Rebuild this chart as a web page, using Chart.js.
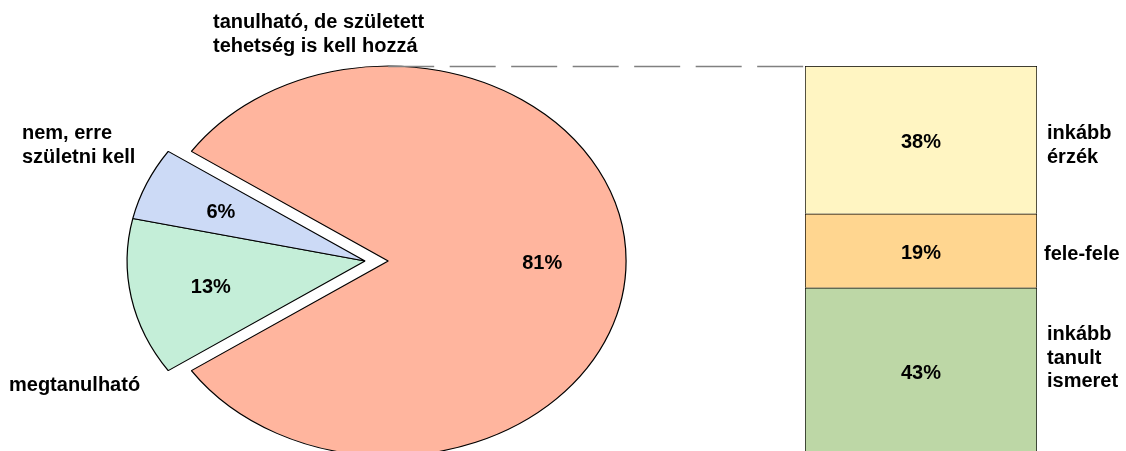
<!DOCTYPE html>
<html lang="hu">
<head>
  <meta charset="UTF-8">
  <title>Tanulható-e?</title>
  <script src="https://cdn.jsdelivr.net/npm/chart.js"></script>
  <style>
    body {
      margin: 0;
      width: 1126px;
      height: 451px;
      overflow: hidden;
      background: #fff;
      position: relative;
      font-family: 'Liberation Sans', Arial, sans-serif;
    }
    #pieChart { position: absolute; left: 0; top: 0; }
    #barChart { position: absolute; left: 790px; top: 0; }
    .lbl {
      position: absolute;
      font-weight: bold;
      font-size: 20px;
      line-height: 23.5px;
      color: #000;
      white-space: nowrap;
    }
  </style>
</head>
<body>
  <canvas id="pieChart" width="805" height="451"></canvas>
  <canvas id="barChart" width="270" height="470"></canvas>

  <div class="lbl" style="left:213px; top:10px">tanulható, de született<br>tehetség is kell hozzá</div>
  <div class="lbl" style="left:22px; top:121px">nem, erre<br>születni kell</div>
  <div class="lbl" style="left:9px; top:373px">megtanulható</div>
  <div class="lbl" style="left:1047px; top:121px">inkább<br>érzék</div>
  <div class="lbl" style="left:1044px; top:242px">fele-fele</div>
  <div class="lbl" style="left:1047px; top:322px">inkább<br>tanult<br>ismeret</div>

  <script>
    // kördiagram adatai
    const pieLabels = ['tanulható, de született tehetség is kell hozzá', 'megtanulható', 'nem, erre születni kell'];
    const pieValues = [81, 13, 6];
    const pieColors = ['#ffb59e', '#c4eed8', '#ccdaf6'];

    // oszlop (a nagy szelet bontása), alulról felfelé
    const barLabels = ['inkább tanult ismeret', 'fele-fele', 'inkább érzék'];
    const barValues = [43, 19, 38];
    const barColors = ['#bdd7a6', '#ffd690', '#fff5c2'];

    const SX = 1.22;          // ellipszis vízszintes nyújtása
    const explode = [19, 0, 0]; // kiemelt szelet eltolása
    const labelFont = 'bold 20px "Liberation Sans", Arial, sans-serif';
    const textDy = 2.5;

    // a nagy szelet középre (jobbra) forgatva
    const rotation = 90 - pieValues[0] / 100 * 360 / 2;

    const ellipsePie = {
      id: 'ellipsePie',
      beforeDatasetDraw(chart, args) {
        const ctx = chart.ctx;
        args.meta.data.forEach((arc, i) => {
          const mid = (arc.startAngle + arc.endAngle) / 2;
          ctx.save();
          ctx.translate(arc.x, arc.y);
          ctx.scale(SX, 1);
          ctx.translate(Math.cos(mid) * explode[i], Math.sin(mid) * explode[i]);
          ctx.translate(-arc.x, -arc.y);
          arc.draw(ctx);
          ctx.restore();
        });
        return false;
      },
      afterDatasetsDraw(chart) {
        const ctx = chart.ctx;
        const arcs = chart.getDatasetMeta(0).data;
        ctx.save();
        ctx.font = labelFont;
        ctx.fillStyle = '#000';
        ctx.textAlign = 'center';
        ctx.textBaseline = 'middle';
        arcs.forEach((arc, i) => {
          const mid = (arc.startAngle + arc.endAngle) / 2;
          const r = arc.outerRadius * 0.66 + explode[i];
          ctx.fillText(pieValues[i] + '%', arc.x + Math.cos(mid) * r * SX - (i === 0 ? 3 : 0), arc.y + Math.sin(mid) * r + textDy);
        });
        // szaggatott összekötő vonal az oszlop tetejéhez
        const big = arcs[0];
        const y = Math.round(big.y - big.outerRadius) + 0.5;
        ctx.strokeStyle = '#808080';
        ctx.lineWidth = 1.5;
        ctx.setLineDash([46, 15.5]);
        ctx.beginPath();
        ctx.moveTo(big.x + explode[0] * SX, y);
        ctx.lineTo(chart.width, y);
        ctx.stroke();
        ctx.restore();
      }
    };

    new Chart(document.getElementById('pieChart'), {
      type: 'pie',
      data: {
        labels: pieLabels,
        datasets: [{
          data: pieValues,
          backgroundColor: pieColors,
          borderColor: '#000',
          borderWidth: 1
        }]
      },
      options: {
        responsive: false,
        animation: false,
        events: [],
        rotation: rotation,
        radius: 195,
        layout: { padding: { left: 0, right: 75, top: 71, bottom: 0 } },
        plugins: { legend: { display: false }, tooltip: { enabled: false } }
      },
      plugins: [ellipsePie]
    });

    const barText = {
      id: 'barText',
      afterDatasetsDraw(chart) {
        const ctx = chart.ctx;
        ctx.save();
        ctx.font = labelFont;
        ctx.fillStyle = '#000';
        ctx.textAlign = 'center';
        ctx.textBaseline = 'middle';
        chart.data.datasets.forEach((ds, i) => {
          const bar = chart.getDatasetMeta(i).data[0];
          ctx.fillText(ds.data[0] + '%', bar.x, (bar.y + bar.base) / 2 + textDy);
        });
        ctx.restore();
      }
    };

    new Chart(document.getElementById('barChart'), {
      type: 'bar',
      data: {
        labels: [''],
        datasets: barLabels.map((lab, i) => ({
          label: lab,
          data: [barValues[i]],
          backgroundColor: barColors[i],
          borderColor: '#000',
          borderWidth: 1,
          borderSkipped: 'bottom',
          barPercentage: 1,
          categoryPercentage: 1
        }))
      },
      options: {
        responsive: false,
        animation: false,
        events: [],
        layout: { padding: { left: 15, right: 23, top: 66, bottom: 15 } },
        scales: {
          x: { stacked: true, display: false },
          y: { stacked: true, display: false, min: 0, max: 100 }
        },
        plugins: { legend: { display: false }, tooltip: { enabled: false } }
      },
      plugins: [barText]
    });
  </script>
</body>
</html>
